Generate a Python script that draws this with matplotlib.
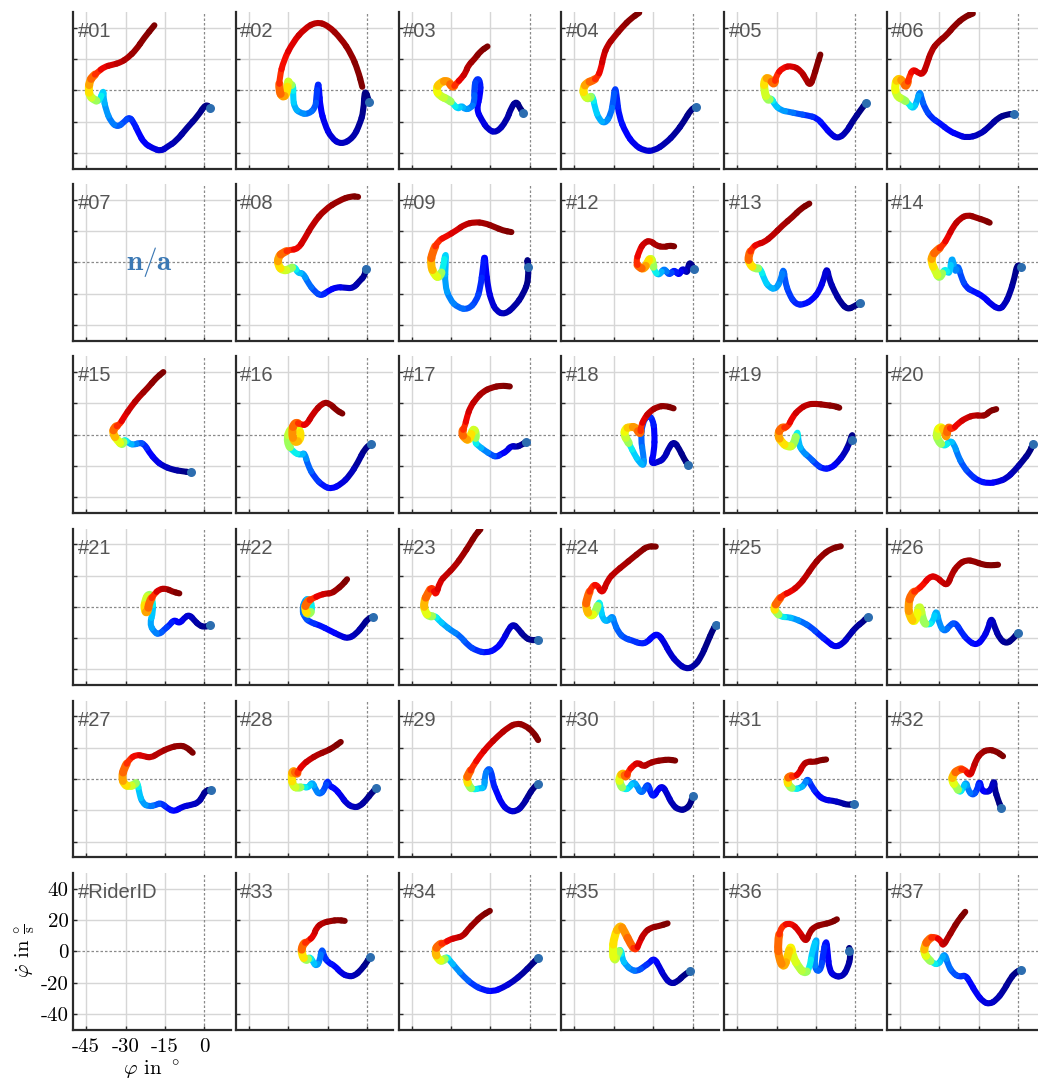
import numpy as np
import matplotlib
matplotlib.use("Agg")
import matplotlib.pyplot as plt
from matplotlib.collections import PathCollection
from matplotlib.path import Path

plt.rcParams['mathtext.fontset'] = 'cm'
plt.rcParams['axes.unicode_minus'] = False

# ---------------- data ----------------
RIDERS = [
    ['#01', '#02', '#03', '#04', '#05', '#06'],
    ['#07', '#08', '#09', '#12', '#13', '#14'],
    ['#15', '#16', '#17', '#18', '#19', '#20'],
    ['#21', '#22', '#23', '#24', '#25', '#26'],
    ['#27', '#28', '#29', '#30', '#31', '#32'],
    ['#RiderID', '#33', '#34', '#35', '#36', '#37'],
]
MISSING = ['#07']

XTICKS = [-45, -30, -15, 0]
YTICKS = [-40, -20, 0, 20, 40]
XTICKLABELS = ['-45', '-30', '-15', '0']
YTICKLABELS = ['-40', '-20', '0', '20', '40']

# phase 1: approach (blue), phase 2: turn-in (cyan..orange), phase 3: exit (red)
APPROACH = {
    '#01': [(2.3,-11.6),(0.6,-8.6),(-2.5,-16.6),(-6.4,-23.7),(-10.8,-32.7),(-14,-36),(-16.5,-39),(-19.7,-37),(-22.9,-33.8),(-25,-27.3),(-27,-20.2),(-28.6,-17),(-30.5,-20.2),(-33,-23.7),(-35.6,-20.2),(-37.5,-12.3),(-38.4,-4.7),(-38.4,0.6),(-40,-7.5)],
    '#02': [(0.8,-7.3),(-0.9,1.3),(-1.3,-13.3),(-2.8,-21.9),(-5.3,-30.5),(-9.8,-34.8),(-13.6,-30.5),(-16.1,-21.9),(-17.8,-11.2),(-18.3,1.7),(-18.7,4.9),(-19.3,-4.7),(-19.6,-11.2),(-22.5,-15.5),(-25.7,-14.4),(-27.6,-11.2),(-28.2,-4.7),(-28,3.9)],
    '#03': [(-2.5,-14.4),(-3.8,-11.2),(-5.1,-6.9),(-7,-10.8),(-8.9,-19.8),(-12.7,-27.3),(-15.9,-25.2),(-18.4,-18.7),(-20.3,-12.3),(-18.8,-2.6),(-18.8,6),(-20.3,7.7),(-21.2,1.7),(-21,-8),(-22.6,-11.6),(-24.8,-12.3),(-26,-9.5),(-27.3,-12.3),(-29.2,-8.6)],
    '#04': [(1.3,-10.8),(-0.6,-12.3),(-3.2,-19.8),(-6.4,-27.3),(-10.2,-33.8),(-14.6,-38.7),(-18.4,-38.7),(-22.2,-34.8),(-25.4,-27.3),(-28,-16.6),(-28.8,-4.7),(-29.5,2.8),(-30.2,-6.9),(-31.1,-15.5),(-33.3,-21.5),(-35.6,-18.7),(-37.2,-11.2),(-38.1,-2.6)],
    '#05': [(4.1,-8),(2.2,-12.3),(-1,-19.8),(-3.6,-27.3),(-6.7,-31),(-9.3,-28),(-11.8,-23),(-14.6,-17.6),(-18.2,-16.1),(-22,-15),(-25.2,-13.8),(-28.3,-12.9),(-30.9,-9),(-31.8,-4.7)],
    '#06': [(-1.5,-15.1),(-4.4,-15.5),(-7.6,-17.6),(-10.8,-23),(-14.6,-28.4),(-19.7,-30.5),(-22.9,-28.4),(-26,-26.2),(-29.9,-20.9),(-33,-17.6),(-35.6,-11.2),(-36.8,-4.7),(-37.5,-0.4),(-38.4,-6.9),(-40,-12.3),(-41.9,-8)],
    '#08': [(-0.5,-3.9),(-0.9,-8.6),(-2.8,-11.8),(-5.3,-16.6),(-8.5,-16.1),(-11.7,-15.7),(-14.9,-18.3),(-17.4,-21.5),(-19.9,-18.7),(-22.5,-12.9),(-24.4,-6.5),(-26.3,-7.1),(-27.6,-2.2)],
    '#09': [(-0.6,-3.2),(-1,4.3),(-0.3,-10.8),(-2.5,-20.4),(-5.7,-28),(-9.5,-33.3),(-12.7,-31.2),(-14.6,-24.7),(-15.9,-16.1),(-16.8,-3.2),(-17.2,5.8),(-17.8,-3.2),(-18.8,-16.1),(-20.3,-24.7),(-23.5,-30.1),(-27.3,-29),(-30.5,-23.7),(-32.4,-14),(-32,-1.1),(-32,7.5),(-33,-3.2)],
    '#12': [(0.6,-4.3),(-1.3,1.1),(-1.9,-7.5),(-3.8,-3.2),(-5.1,-8.6),(-7,-4.3),(-8.9,-8.6),(-10.8,-3.2),(-12.7,-8.6),(-14.6,-5.4)],
    '#13': [(1.9,-25.8),(-0.4,-28),(-2.9,-30.1),(-5.5,-25.8),(-8,-18.3),(-9.9,-10.8),(-10.8,-3.2),(-11.8,-9.7),(-13.7,-18.3),(-16.3,-23.7),(-19.4,-26.9),(-22.6,-26.9),(-25.2,-20.4),(-26.8,-11.8),(-27.3,-3.2),(-28.3,-10.8),(-30.2,-17.2),(-32.8,-16.1),(-34.7,-10.8),(-36.2,-3.2)],
    '#14': [(1,-3.2),(-0.3,-1.1),(-1.3,-9.7),(-3.2,-20.4),(-5.1,-26.9),(-7,-30.1),(-10.2,-26.9),(-13.3,-21.5),(-17.2,-18.3),(-19.7,-16.1),(-21.6,-9.7),(-22.9,-1.1),(-23.9,-7.5),(-25.2,5.4),(-26,-8.6),(-27.9,-3.2)],
    '#15': [(-5.1,-24.1),(-8.3,-23.4),(-12.1,-22.4),(-15.9,-19.8),(-18.4,-16.6),(-21,-11.2),(-22.9,-5.8),(-24.8,-5.2),(-26.7,-6.5),(-28.6,-5.8),(-30.5,-2.6)],
    '#16': [(1.7,-5.8),(-0.9,-9),(-3.4,-17.6),(-6.6,-26.2),(-9.8,-31.6),(-13.6,-34.8),(-16.8,-32.7),(-20,-27.3),(-22.5,-19.8),(-23.8,-11.2),(-25,-13.3),(-28.2,-11.2)],
    '#17': [(-1.3,-4.7),(-3.2,-6.5),(-5.1,-8),(-7,-6.9),(-8.9,-10.8),(-10.8,-12.3),(-12.7,-14.4),(-14.6,-12.9),(-17.2,-10.1),(-19.7,-6.9),(-21,-4.7)],
    '#18': [(-1.7,-19.4),(-3.2,-15.5),(-5.1,-9),(-7,-4.3),(-8.9,-8),(-10.8,-15.5),(-13.3,-17.6),(-15.9,-18.7),(-14.6,-11.2),(-14.4,1.7),(-15.2,10.3),(-17.2,12.5),(-19.1,7.1),(-19.7,-2.6),(-18.7,-13.3),(-18.4,-20.2),(-20.3,-17.6),(-22.2,-12.3),(-23.8,-6.9)],
    '#19': [(-1.4,-3.7),(-1,1.3),(-2.3,-5.8),(-4.2,-12.3),(-6.7,-17.6),(-9.3,-21.5),(-12.5,-21.9),(-15,-18.7),(-17.5,-14.4),(-20.1,-10.8),(-21.6,-5.8),(-22,3.9)],
    '#20': [(5.7,-5.8),(4.4,-11.2),(1.9,-16.6),(-1.3,-23),(-4.4,-28),(-7.6,-30.1),(-11.4,-31.2),(-15.2,-29.5),(-18.4,-25.2),(-21,-19.8),(-22.9,-13.3),(-24.4,-5.8),(-26,-3.7),(-27.9,-8)],
    '#21': [(2.2,-11.8),(0,-12.9),(-1.9,-11.8),(-3.8,-8.6),(-5.7,-4.9),(-7.6,-7.1),(-9.5,-10.8),(-11.4,-8),(-13.3,-11.8),(-15.2,-14.4),(-17.2,-17.8),(-19.1,-16.1),(-20.8,-10.8),(-19.4,-3.2),(-19.7,5.4)],
    '#22': [(2.3,-6.5),(0.4,-7.5),(-1.5,-11.8),(-4.1,-17.2),(-7.2,-20.4),(-10.4,-18.3),(-14.2,-15.1),(-18,-11.8),(-21.9,-9.7),(-23.8,-6.5),(-24.7,-2.2),(-23.8,4.3),(-21.9,5.4),(-20.6,-1.1)],
    '#23': [(3.2,-20.9),(0.6,-21.5),(-1.9,-19.4),(-4.4,-14),(-6.4,-10.8),(-8.3,-15.1),(-10.2,-21.5),(-12.7,-26.9),(-16.5,-29.5),(-20.3,-28),(-23.5,-24.7),(-26.7,-18.3),(-29.9,-15.1),(-32.4,-11.8),(-34.6,-8.6),(-36.2,-5.4)],
    '#24': [(8.9,-11.4),(7.6,-15.1),(5.7,-22.6),(3.2,-32.3),(0.6,-38.1),(-2.5,-39.8),(-5.7,-35.9),(-8.5,-30.1),(-10.8,-22.6),(-13.1,-17.2),(-15.2,-18.7),(-17.2,-22.6),(-19.7,-23.7),(-22.9,-21.5),(-26,-20),(-28.3,-16.1),(-29.9,-9.7),(-30.5,-5.4),(-32.4,-9.7),(-34.3,-7.5),(-34.9,-1.1),(-35.6,4.3)],
    '#25': [(4.7,-6.5),(2.8,-9.7),(0.3,-12.9),(-2.3,-18.3),(-4.8,-23.7),(-7.8,-25.8),(-10.5,-22.2),(-13.7,-17.8),(-16.9,-12.9),(-20.1,-9.7),(-23.3,-7.5),(-25.8,-6.5),(-28.3,-6.5)],
    '#26': [(0,-16.6),(-1.9,-20.4),(-4.4,-23.7),(-7,-20.4),(-8.9,-12.9),(-10.2,-6.5),(-11.4,-14),(-13.3,-20.4),(-15.9,-24.7),(-19.1,-21.5),(-21.6,-16.1),(-23.9,-9.7),(-26,-11.8),(-27.9,-16.1),(-29.9,-11.8),(-31.1,-1.1),(-32.4,-9.7),(-34.3,-11.8)],
    '#27': [(2.5,-7.3),(0.6,-7.3),(-0.6,-10.8),(-2.2,-15.1),(-5.1,-16.6),(-8.3,-17.6),(-11.4,-20.9),(-14,-18.7),(-16.5,-15.1),(-18.4,-16.6),(-21.2,-17.6),(-23.5,-15.5),(-24.8,-9),(-25.4,-1.5)],
    '#28': [(3.6,-5.8),(1.7,-9),(-0.3,-13.3),(-2.8,-17.6),(-5.3,-18.1),(-7.9,-15.5),(-9.8,-10.8),(-12.3,-5.8),(-14.2,-4.7),(-15.1,-0.4),(-16.1,-6.5),(-18,-10.1),(-19.6,-6.9),(-20.8,-1.5),(-22.4,-5.8),(-24.4,-4.7)],
    '#29': [(3.2,-3),(1.3,-5.8),(-0.6,-10.8),(-2.5,-16.6),(-5.1,-20.9),(-8.3,-20.2),(-10.8,-15.5),(-12.7,-8),(-14,-2.6),(-14.6,4.9),(-15.9,7.1),(-17.2,1.7),(-17.2,-5.8),(-19.1,-5.8),(-21.6,-6.9)],
    '#30': [(0,-10.8),(-0.6,-15.5),(-2.5,-19.4),(-5.1,-19.8),(-7.6,-16.6),(-9.8,-9),(-11.4,-4.3),(-13.3,-6.9),(-14.6,-11.2),(-15.9,-9.5),(-16.9,-2.6),(-18.4,-6.9),(-19.7,-9),(-21,-4.7),(-22.5,-1.5),(-24.1,-5.8),(-26,-6.9)],
    '#31': [(-0.6,-15.9),(-2.9,-16.6),(-5.5,-15.1),(-8.6,-13.8),(-11.8,-13.3),(-14.4,-10.1),(-16.9,-3.7),(-18.2,0.6),(-19.4,-3.7),(-21,-5.8),(-23.3,-6.5)],
    '#32': [(-6.4,-18.7),(-7.6,-13.3),(-8.9,-6.5),(-9.1,0),(-10.2,-6.9),(-12.1,-8.6),(-14,-6.9),(-14.6,-0.4),(-15.5,-6.9),(-17.2,-10.8),(-19.1,-6.9),(-19.7,-1.5),(-21,-5.8),(-22.2,-9)],
    '#33': [(1,-3.9),(-0.3,-7.5),(-2.2,-11.8),(-4.7,-15.7),(-7.2,-16.1),(-9.8,-14),(-12.3,-9.2),(-14.9,-7.1),(-16.4,-3.2),(-17.2,2.2),(-18,-6.5),(-19.4,-9.7),(-20.6,-6.5),(-21.9,-3.2)],
    '#34': [(3.2,-4.3),(0.6,-8.6),(-2.5,-14),(-6.4,-19.4),(-10.2,-23.2),(-14,-25.8),(-17.8,-24.7),(-21.6,-21.5),(-25.2,-16.1),(-28,-10.8),(-30.5,-5.8),(-31.8,-3.2)],
    '#35': [(-0.9,-12.9),(-3.2,-15.1),(-5.7,-19.4),(-8.3,-20.9),(-10.8,-16.1),(-12.7,-9.7),(-14.6,-4.3),(-16.5,-7.5),(-18.4,-9.7),(-21,-12.9),(-23.5,-11.8),(-25.4,-8.6),(-26.7,-5.4),(-27.3,2.2)],
    '#36': [(-2.3,0),(-2.3,3.2),(-1.7,-3.2),(-2.9,-10.8),(-4.8,-16.1),(-8,-16.1),(-9.9,-11.8),(-10.5,-1.1),(-11.1,8.4),(-12.4,-3.2),(-13,-11.8),(-15,-12.9),(-15.6,-5.4),(-14.4,9.7),(-16.3,1.1),(-17.5,-11.8)],
    '#37': [(1,-11.8),(-1.3,-14),(-3.2,-18.3),(-5.7,-25.8),(-8.3,-31.2),(-10.8,-33.8),(-13.3,-32.3),(-15.9,-26.9),(-18.4,-19.4),(-20.1,-15.1),(-22.2,-16.6),(-24.8,-14),(-26.7,-8.6),(-27.9,-1.1),(-29.2,-5.4),(-30.5,-8.6),(-32.4,-7.5)],
}

TURN = {
    '#01': [(-42.2,-5.8),(-43.6,-3.7),(-44.1,0.6),(-43.6,6),(-42.6,8.6)],
    '#02': [(-29.5,2.8),(-30.1,7.1),(-30.5,-2.6),(-32.3,-4.7),(-33.5,0)],
    '#03': [(-31.1,-5.8),(-34.3,-3.7),(-35.8,0.6),(-34.3,4.9),(-31.1,6.5),(-29.5,1.3)],
    '#04': [(-39.4,-5.8),(-41.3,-3.7),(-41.7,1.3),(-40.3,4.9),(-38.1,6)],
    '#05': [(-33.4,-6.9),(-34.7,-0.4),(-34.7,7.1),(-32.8,8.2),(-30.9,2.8)],
    '#06': [(-43.8,-5.8),(-46.4,-3.7),(-47,3.9),(-45.5,8.2),(-43.5,4.9),(-42.6,1.7)],
    '#08': [(-29.5,-4.3),(-32,-5.4),(-33.9,-2.2),(-33.9,3.7),(-31.8,6.5)],
    '#09': [(-34.3,-9.7),(-36.2,-8.6),(-37.9,-1.1),(-37.1,6.5)],
    '#12': [(-15.2,0),(-15.9,3.2),(-17.2,0),(-18.4,-4.3),(-20.3,-3.2)],
    '#13': [(-37.9,-4.3),(-40.4,-1.1),(-40.8,4.3)],
    '#14': [(-29.9,-10.8),(-31.5,-5.4),(-33,0),(-32.8,4.3),(-31.1,7.5)],
    '#15': [(-31.1,-6.9),(-33,-3.7),(-34.9,0.6),(-34.3,4.9)],
    '#16': [(-30.5,-4.7),(-29.5,3.9),(-25.9,4.9),(-25,-2.6),(-27.6,-5.8),(-28.8,1.7),(-27.6,8.2)],
    '#17': [(-20.3,0.6),(-21.6,4.5),(-22.9,-3.7),(-24.8,-2.6),(-26,1.3)],
    '#18': [(-24.8,-3.7),(-26,-0.4),(-25.7,3.9),(-23.8,4.9),(-21.6,4.9),(-19.9,-0.4)],
    '#19': [(-23.3,-6.9),(-25.8,-8),(-28.1,-4.7),(-29.6,-0.4),(-28.3,4.9)],
    '#20': [(-30.7,-3.7),(-31.1,1.7),(-29.5,5.6),(-27.9,2.2),(-27.3,-2.6),(-26.7,5.6)],
    '#21': [(-21,8.6),(-22.5,4.3),(-22.9,-2.2),(-21.6,-4.3),(-21,3.2)],
    '#22': [(-22.2,-5.4),(-23.8,-2.2),(-23.1,3.2)],
    '#23': [(-38.1,-6.5),(-40,-3.2),(-40.4,3.2),(-38.8,8.6)],
    '#24': [(-36.8,-3.2),(-38.8,-6.5),(-40.7,-1.1),(-40.3,5.4)],
    '#25': [(-30.2,-3.2),(-31.1,-0.6),(-29.5,3.7)],
    '#26': [(-36.2,-9.7),(-37.5,3.2),(-39.1,-10.8),(-41.3,-6.5),(-41.9,1.1),(-40.7,8.6)],
    '#27': [(-26.7,-3.7),(-28.6,-4.7),(-30.5,-3.7),(-31.4,1.3),(-30.5,7.1)],
    '#28': [(-26.3,-5.8),(-28.2,-4.7),(-28.8,1.7),(-28.2,6),(-26.7,2.8)],
    '#29': [(-23.1,-4.7),(-24.1,0),(-23.5,2.8)],
    '#30': [(-27.6,-3.7),(-28,1.3),(-26.3,4.3),(-25.4,0.6)],
    '#31': [(-25.2,-4.7),(-26.1,-0.4),(-24.9,2.2)],
    '#32': [(-23.5,-4.7),(-25.2,-1.5),(-24.8,2.8),(-22.9,6)],
    '#33': [(-23.1,-6.5),(-25,-2.2),(-24.7,4.3)],
    '#34': [(-33,-6.5),(-34.9,-5.4),(-36.2,0),(-34.9,4.3)],
    '#35': [(-28.8,-2.2),(-29.6,-6.5),(-30.5,-1.1),(-29.9,9.7),(-27.6,17.2),(-26,12.9),(-23.5,4.3)],
    '#36': [(-19.4,-14),(-21.3,-10.8),(-23.9,-3.2),(-24.5,4.3),(-25.8,-3.2),(-27.1,-10.8),(-29,-5.4),(-29.6,5.4)],
    '#37': [(-34.3,-4.9),(-35.8,-1.1),(-35.6,3.2),(-34.3,7.5)],
}

EXIT = {
    '#01': [(-40.7,11.4),(-38.1,15),(-34.9,16.3),(-31.8,17.8),(-29.2,20.6),(-26,25.8),(-22.9,33.5),(-19,41.5)],
    '#02': [(-33.3,8.2),(-31.8,18.9),(-28.2,30.8),(-23.8,39.4),(-19.3,43.7),(-14.9,41.5),(-9.8,32.9),(-6,23.2),(-3.4,12.5),(-1.8,2.2)],
    '#03': [(-28,4.3),(-26,7.7),(-24.4,11.4),(-23.5,15.7),(-21,20),(-18.8,24.9),(-16.1,28)],
    '#04': [(-36.2,8.2),(-34.9,13.5),(-33.9,22.2),(-32.4,28.6),(-29.9,34),(-26.7,40.4),(-23.5,45.8),(-20.3,49.5)],
    '#05': [(-30.2,9.2),(-27.7,14.6),(-23.9,15.7),(-20.7,12.5),(-18.8,7.1),(-17.2,2.8),(-15.9,8.2),(-14.6,15.7),(-13.3,22.8)],
    '#06': [(-41.3,9.2),(-40,13.5),(-38.1,11.2),(-36.2,10.1),(-34.9,15.7),(-33,25.4),(-30.5,30.8),(-27.3,35),(-24.1,41.5),(-20.3,46.9),(-17.2,49)],
    '#08': [(-29.5,8),(-26.3,8.6),(-23.8,15.1),(-20.6,24.7),(-16.1,33.8),(-10.4,39.8),(-6,42.4),(-3.4,41.9)],
    '#09': [(-34.9,14),(-31.8,16.6),(-28,20.4),(-24.8,24.3),(-21,25.8),(-17.2,25.2),(-13.3,22.6),(-10.2,20.4),(-7,19.4)],
    '#12': [(-21.6,0),(-20.3,7.5),(-18.4,12.9),(-15.9,14),(-14,10.8),(-10.8,9.7),(-8.9,10.8),(-7,10.3)],
    '#13': [(-39.1,9.7),(-37.2,11.8),(-34.7,12.9),(-31.5,17.2),(-27.7,23.7),(-23.9,29),(-20.7,34.4),(-17.5,37.6)],
    '#14': [(-28.6,10.8),(-26.7,16.1),(-24.8,22.6),(-22.2,28),(-19.1,30.5),(-15.9,28.6),(-12.7,26.9),(-10.8,25.4)],
    '#15': [(-32.4,6),(-30.5,11.4),(-27.9,17.8),(-24.8,24.3),(-21.6,29.7),(-18.4,36.1),(-15.6,40)],
    '#16': [(-25,6.5),(-23.1,6),(-20.6,13.5),(-16.8,20.6),(-14.2,20),(-11.7,15.7),(-9.4,13.5)],
    '#17': [(-24.8,4.9),(-23.9,11.4),(-22.6,17.8),(-20.3,23.2),(-17.8,27.5),(-14.6,30.1),(-10.8,31.4),(-7.6,30.8)],
    '#18': [(-19.7,4.9),(-18.4,10.3),(-16.1,15.1),(-13.3,17.8),(-10.5,18.5),(-7.2,16.8)],
    '#19': [(-25.8,4.3),(-23.9,11.4),(-21.3,16.3),(-18.2,19.4),(-15,19.8),(-11.2,18.9),(-8,18.3),(-6.1,17.2)],
    '#20': [(-25.2,2.8),(-22.9,7.1),(-19.7,10.8),(-16.5,12.5),(-14,12),(-12.1,12.5),(-10.8,15.1),(-8.3,16.3)],
    '#21': [(-19.1,8),(-17.2,11.2),(-14.6,11.8),(-12.1,9.7),(-9.5,8.6)],
    '#22': [(-20.6,5.4),(-18,7.5),(-15.5,8.6),(-13.6,8.6),(-11.7,10.8),(-9.4,14),(-7.6,17.6)],
    '#23': [(-37.1,13.5),(-35.8,6.5),(-34.3,16.1),(-31.8,20.4),(-28.6,25.8),(-25.4,33.3),(-22.9,39.8),(-20.6,46.2),(-18.8,49.5)],
    '#24': [(-38.1,14),(-36.2,14),(-34.3,8),(-32.4,17.2),(-29.2,22.6),(-26,26.9),(-22.9,31.2),(-19.7,35.5),(-17.2,38.7),(-14,38.5)],
    '#25': [(-27.7,7.5),(-24.5,9.7),(-21.3,14),(-18.8,19.4),(-16.3,25.8),(-13.1,32.3),(-9.3,37.2),(-5.5,38.7)],
    '#26': [(-38.4,10.8),(-36.2,14),(-33.7,19.4),(-31.1,19.4),(-28.6,15.1),(-26.7,14),(-25.4,20.4),(-22.9,26.9),(-19.7,30.1),(-16.5,29),(-13.3,26.9),(-10.2,26.5),(-7.6,26.9)],
    '#27': [(-28.6,12.5),(-26,15.7),(-22.9,14.6),(-20.3,13.5),(-17.2,16.8),(-13.3,20),(-9.5,21.5),(-6.9,20.6),(-4.4,16.8)],
    '#28': [(-26.3,4.9),(-24.4,9.2),(-21.9,12.5),(-18.7,15.7),(-15.5,17.8),(-13,20),(-10,23.7)],
    '#29': [(-21.6,8.2),(-19.1,14.6),(-15.9,21.1),(-12.1,27.5),(-8.3,32.9),(-5.1,35.7),(-1.9,34.4),(1.3,30.1),(3.2,24.9)],
    '#30': [(-24.5,4.9),(-22.6,8.6),(-20.6,10.8),(-18.7,7.7),(-16.8,9.9),(-14.2,11.4),(-11.7,12),(-9.1,12.5),(-6.6,11.8)],
    '#31': [(-23.3,1.3),(-21.3,3.9),(-20.1,8.6),(-18.2,11.4),(-15.6,10.8),(-13.6,12),(-11.1,12.5)],
    '#32': [(-20.3,6.5),(-18.4,1.7),(-17.2,6),(-15.9,12.5),(-14,16.8),(-11.4,18.9),(-8.3,17.8),(-5.7,14.6)],
    '#33': [(-22.5,6.5),(-20.3,9.7),(-19.3,15.1),(-16.8,18.3),(-13.6,19.4),(-11.1,20),(-8.5,19.4)],
    '#34': [(-32.4,5.4),(-30.5,7.5),(-28,8.6),(-25.4,9.7),(-23.5,14),(-21,18.3),(-18.4,22.6),(-15.2,25.8)],
    '#35': [(-21.6,0),(-20.3,5.4),(-18.4,11.8),(-15.9,15.1),(-12.7,16.1),(-9.5,17.8)],
    '#36': [(-28.3,16.1),(-24.5,18.3),(-21.3,12.9),(-18.8,5.4),(-17.5,11.8),(-15.6,15.7),(-12.4,17.2),(-9.3,18.3),(-7,20.4)],
    '#37': [(-31.8,9.7),(-29.2,6.5),(-28.6,3.2),(-26.7,8.6),(-24.8,14),(-22.9,19.4),(-20.1,25.2)],
}

# ---------------- drawing ----------------
W, H = 1038, 1083
fig = plt.figure(figsize=(W / 100, H / 100), dpi=100)
cmap = plt.get_cmap('jet')

AX_W, AX_H = 157.5, 156.5
GRID_C = '#d6d6d6'
ZERO_C = '#8a8a8a'
SPINE_C = '#2b2b2b'
LABEL_FONT = 'cmr10'


def smooth_pieces(p):
    """Quadratic-Bezier pieces through the midpoints, with each data point as control."""
    n = len(p)
    mids = 0.5 * (p[:-1] + p[1:])
    pieces = [Path([p[0], mids[0]], [Path.MOVETO, Path.LINETO])]
    for i in range(1, n - 1):
        pieces.append(Path([mids[i - 1], p[i], mids[i]],
                           [Path.MOVETO, Path.CURVE3, Path.CURVE3]))
    pieces.append(Path([mids[-1], p[-1]], [Path.MOVETO, Path.LINETO]))
    return pieces


for r, row in enumerate(RIDERS):
    for c, rid in enumerate(row):
        left = 73 + 162.75 * c
        top = 12 + 172.2 * r
        ax = fig.add_axes([left / W, 1 - (top + AX_H) / H, AX_W / W, AX_H / H])
        ax.set_xlim(-50, 10)
        ax.set_ylim(-50, 50)
        ax.set_facecolor('white')
        for s in ['top', 'right']:
            ax.spines[s].set_visible(False)
        for s in ['left', 'bottom']:
            ax.spines[s].set_linewidth(1.6)
            ax.spines[s].set_color(SPINE_C)
        ax.set_xticks(XTICKS)
        ax.set_yticks(YTICKS)
        ax.tick_params(direction='in', length=3, width=1.0, color=SPINE_C)
        for xv in XTICKS:
            if xv != 0:
                ax.axvline(xv, color=GRID_C, lw=1.0, zorder=0)
        for yv in YTICKS:
            if yv != 0:
                ax.axhline(yv, color=GRID_C, lw=1.0, zorder=0)
        ax.axvline(0, color=ZERO_C, lw=0.9, ls=(0, (2.0, 1.6)), zorder=0.5)
        ax.axhline(0, color=ZERO_C, lw=0.9, ls=(0, (2.0, 1.6)), zorder=0.5)

        if r == len(RIDERS) - 1 and c == 0:
            ax.set_xticklabels(XTICKLABELS, fontfamily=LABEL_FONT, fontsize=15)
            ax.set_yticklabels(YTICKLABELS, fontfamily=LABEL_FONT, fontsize=15)
            ax.tick_params(axis='x', pad=6)
            ax.tick_params(axis='y', pad=3)
            ax.set_xlabel(r'$\varphi$ in $^\circ$', fontfamily=LABEL_FONT, fontsize=15, labelpad=2)
            ax.set_ylabel(r'$\dot{\varphi}$ in $\frac{\circ}{\mathrm{s}}$', fontfamily=LABEL_FONT,
                          fontsize=15, labelpad=2)
        else:
            ax.set_xticklabels([])
            ax.set_yticklabels([])

        ax.text(0.028, 0.84, rid, transform=ax.transAxes, ha='left', va='baseline',
                fontsize=14.5, color='#555555', family='Liberation Sans', zorder=6)

        if rid in MISSING:
            ax.text(-21, 0, r'$\mathbf{n/a}$', ha='center', va='center', fontsize=21,
                    color='#3b78b4', zorder=6)
            continue
        if rid not in APPROACH:
            continue

        lo, mid, hi = APPROACH[rid], TURN[rid], EXIT[rid]
        pts = np.array(lo + mid + hi, dtype=float)
        cval = np.concatenate([0.36 * np.linspace(0.0, 1.0, len(lo)) ** 1.5,
                               np.linspace(0.54, 0.80, len(mid)),
                               0.86 + 0.14 * np.linspace(0.0, 1.0, len(hi)) ** 0.6])
        widths = np.concatenate([np.full(len(lo), 4.4), np.full(len(mid), 5.8),
                                 np.full(len(hi), 4.4)])
        pieces = smooth_pieces(pts)
        pc = PathCollection(pieces, facecolors='none', edgecolors=cmap(cval),
                            linewidths=widths, capstyle='round', joinstyle='round',
                            transform=ax.transData, zorder=3)
        ax.add_collection(pc)
        ax.plot(pts[0, 0], pts[0, 1], 'o', ms=6.5, color='#2c6db0', mec='none', zorder=4)

fig.savefig('out.png', dpi=100)
